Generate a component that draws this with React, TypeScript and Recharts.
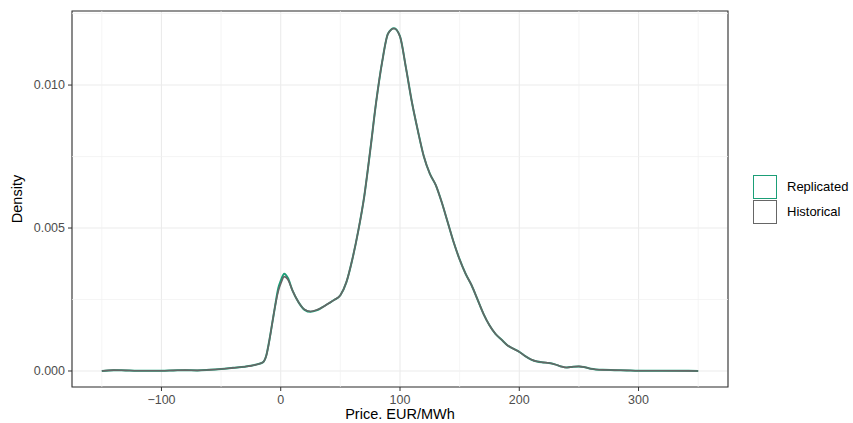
import React from "react";
import { LineChart, Line, XAxis, YAxis, CartesianGrid, ReferenceLine, ReferenceArea } from "recharts";

const prices = [
  -150, -140, -130, -120, -110, -100, -90, -80, -70, -60, -50, -40, -30, -25, -20, -15, -12, -10, -7, -5,
  -2, 0, 3, 6, 10, 15, 20, 25, 30, 35, 40, 45, 50, 55, 60, 65, 70, 75, 80, 85, 90, 95, 100, 105, 110,
  115, 120, 125, 130, 135, 140, 145, 150, 155, 160, 165, 170, 175, 180, 185, 190, 195, 200, 205, 210,
  215, 220, 225, 230, 235, 240, 245, 250, 255, 260, 270, 280, 290, 300, 320, 350,
];

const historical = [
  0.0, 0.00003, 0.00002, 0.00001, 0.00001, 0.00001, 0.00002, 0.00003, 0.00002, 0.00004, 0.00007, 0.00011,
  0.00015, 0.00018, 0.00023, 0.0003, 0.00055, 0.00095, 0.0017, 0.0022, 0.0028, 0.00305, 0.0033, 0.0032,
  0.0028, 0.0024, 0.00215, 0.00208, 0.00213, 0.00223, 0.00236, 0.00249, 0.00265, 0.0031, 0.0039, 0.0049,
  0.0061, 0.0077, 0.0094, 0.0108, 0.0118, 0.01198, 0.0117, 0.0106, 0.0094, 0.0084, 0.0075, 0.0069, 0.0065,
  0.0059, 0.0052, 0.0045, 0.0039, 0.0034, 0.003, 0.0025, 0.002, 0.0016, 0.0013, 0.0011, 0.0009, 0.00078,
  0.00067, 0.00052, 0.0004, 0.00033, 0.0003, 0.00028, 0.00023, 0.00016, 0.00012, 0.00015, 0.00016,
  0.00013, 0.00008, 0.00004, 0.00003, 0.00002, 0.00001, 0.00001, 0.0,
];

const replicated = [
  0.0, 0.00003, 0.00002, 0.00001, 0.00001, 0.00001, 0.00002, 0.00003, 0.00002, 0.00004, 0.00007, 0.00011,
  0.00015, 0.00018, 0.00023, 0.0003, 0.00056, 0.00097, 0.0017, 0.0022, 0.0029, 0.00315, 0.0034, 0.00325,
  0.0028, 0.0024, 0.00214, 0.00207, 0.00212, 0.00223, 0.00236, 0.00249, 0.00265, 0.0031, 0.0039, 0.0049,
  0.0061, 0.0077, 0.0094, 0.0108, 0.0118, 0.01199, 0.0117, 0.0106, 0.0094, 0.0084, 0.0075, 0.0069, 0.0065,
  0.0059, 0.0052, 0.0045, 0.0039, 0.0034, 0.003, 0.0025, 0.002, 0.0016, 0.0013, 0.0011, 0.0009, 0.00078,
  0.00067, 0.00052, 0.0004, 0.00033, 0.0003, 0.00028, 0.00023, 0.00016, 0.00012, 0.00015, 0.00016,
  0.00013, 0.00008, 0.00004, 0.00003, 0.00002, 0.00001, 0.00001, 0.0,
];

const xTicks = [-100, 0, 100, 200, 300];
const xMinor = [-150, -50, 50, 150, 250, 350];
const yTicks = [0, 0.005, 0.01];
const yMinor = [0.0025, 0.0075, 0.0125];

const xDomain: [number, number] = [-175, 375];
const yDomain: [number, number] = [-0.00056, 0.01259];

const data = prices.map((p, i) => ({ price: p, historical: historical[i], replicated: replicated[i] }));

const font = "'Liberation Sans', Arial, Helvetica, sans-serif";
const teal = "#1B9E77";
const grey = "#666666";

export default function App() {
  return (
    <div style={{ position: "absolute", left: 0, top: 0, width: 853, height: 423, background: "#fff", fontFamily: font }}>
      <LineChart width={853} height={423} data={data} margin={{ top: 11, right: 125, bottom: 0, left: 0 }}>
        <CartesianGrid stroke="#EBEBEB" strokeWidth={1.1} />
        {xMinor.map((v) => (
          <ReferenceLine key={"x" + v} x={v} stroke="#F1F1F1" strokeWidth={0.7} />
        ))}
        {yMinor.map((v) => (
          <ReferenceLine key={"y" + v} y={v} stroke="#F1F1F1" strokeWidth={0.7} />
        ))}
        <XAxis
          dataKey="price"
          type="number"
          domain={xDomain}
          ticks={xTicks}
          allowDataOverflow
          height={36}
          tickSize={4}
          tickMargin={4}
          tickLine={{ stroke: "#333333" }}
          axisLine={false}
          tick={{ fill: "#4D4D4D", fontSize: 12.5, fontFamily: font }}
          tickFormatter={(v: number) => (v < 0 ? "\u2212" + Math.abs(v) : String(v))}
        />
        <YAxis
          type="number"
          domain={yDomain}
          ticks={yTicks}
          allowDataOverflow
          width={72}
          tickSize={4}
          tickMargin={3}
          tickLine={{ stroke: "#333333" }}
          axisLine={false}
          tick={{ fill: "#4D4D4D", fontSize: 12.5, fontFamily: font }}
          tickFormatter={(v: number) => v.toFixed(3)}
          label={{ value: "Density", angle: -90, position: "insideLeft", offset: 17, fill: "#000", fontSize: 14.5, fontFamily: font, style: { textAnchor: "middle" } }}
        />
        <Line
          type="monotone"
          dataKey="replicated"
          stroke={teal}
          strokeWidth={2}
          dot={false}
          isAnimationActive={false}
        />
        <Line
          type="monotone"
          dataKey="historical"
          stroke={grey}
          strokeWidth={1.6}
          dot={false}
          isAnimationActive={false}
        />
        <ReferenceArea
          x1={xDomain[0]}
          x2={xDomain[1]}
          y1={yDomain[0]}
          y2={yDomain[1]}
          fill="none"
          stroke="#333333"
          strokeWidth={1.1}
          ifOverflow="visible"
        />
      </LineChart>
      <div style={{ position: "absolute", left: 300, width: 200, top: 406, lineHeight: "16px", textAlign: "center", fontSize: 14.5, color: "#000" }}>
        Price. EUR/MWh
      </div>
      <div style={{ position: "absolute", left: 753, top: 174, fontSize: 13, color: "#000" }}>
        {[
          { name: "Replicated", color: teal },
          { name: "Historical", color: grey },
        ].map((item) => (
          <div key={item.name} style={{ display: "flex", alignItems: "center", height: 25 }}>
            <div style={{ width: 24, height: 24, border: `1.3px solid ${item.color}`, boxSizing: "border-box", marginRight: 10 }} />
            <span>{item.name}</span>
          </div>
        ))}
      </div>
    </div>
  );
}
